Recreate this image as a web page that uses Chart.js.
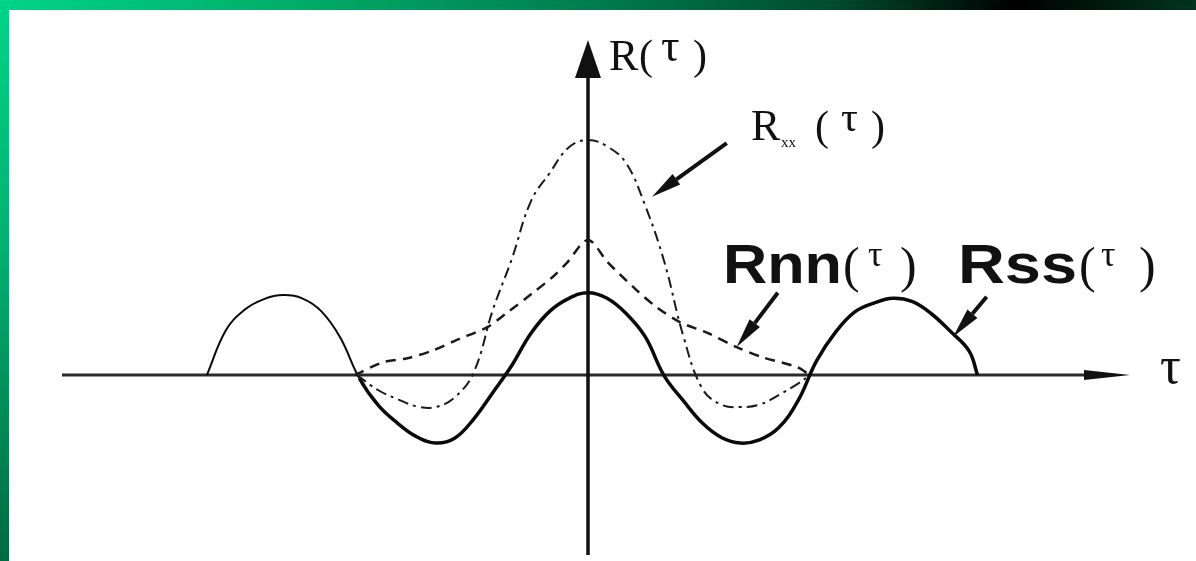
<!DOCTYPE html>
<html>
<head>
<meta charset="utf-8">
<script src="https://cdn.jsdelivr.net/npm/chart.js@4.4.1/dist/chart.umd.min.js"></script>
<style>
  html, body { margin: 0; padding: 0; background: #fff; overflow: hidden; }
  #frameTop {
    position: absolute; left: 0; top: 0; width: 1196px; height: 10px;
    background: linear-gradient(to right, #00d488 0%, #00ac6a 25%, #007c4e 50%, #004a2e 70%, #000 85%, #00351f 100%);
  }
  #frameLeft {
    position: absolute; left: 0; top: 0; width: 9px; height: 561px;
    background: linear-gradient(to bottom, #00d488 0%, #00b070 45%, #006a40 100%);
  }
  #wrap { position: absolute; left: 9px; top: 10px; width: 1187px; height: 551px; }
</style>
</head>
<body>
<div id="frameTop"></div>
<div id="frameLeft"></div>
<div id="wrap"><canvas id="chart" width="1187" height="551"></canvas></div>
<script>
// Rss(τ) – signal autocorrelation (solid)
const rssTau = [-5.0, -4.75, -4.5, -4.25, -4.0, -3.75, -3.5, -3.25, -3.0, -2.75, -2.5, -2.25, -2.0,
  -1.75, -1.5, -1.25, -1.0, -0.75, -0.5, -0.25, 0, 0.25, 0.5, 0.75, 1.0, 1.25, 1.5, 1.75, 2.0,
  2.25, 2.5, 2.75, 3.0, 3.25, 3.5, 3.75, 4.0, 4.25, 4.5, 4.75, 5.0, 5.11];
const rssVal = [0, 0.56, 0.82, 0.95, 1.00, 0.96, 0.80, 0.47, -0.04, -0.38, -0.60, -0.77, -0.85,
  -0.79, -0.55, -0.22, 0.12, 0.52, 0.80, 0.96, 1.03, 0.96, 0.77, 0.48, -0.01, -0.32, -0.60, -0.78, -0.85,
  -0.81, -0.66, -0.33, 0.18, 0.54, 0.79, 0.90, 0.96, 0.92, 0.77, 0.55, 0.30, 0];

// Rnn(τ) – noise autocorrelation (dashed)
const rnnTau = [-3.06, -2.69, -2.37, -2.03, -1.72, -1.32, -1.06, -0.72, -0.46, -0.28, 0,
  0.26, 0.64, 0.90, 1.21, 1.56, 1.95, 2.30, 2.74, 2.91];
const rnnVal = [0, 0.16, 0.21, 0.31, 0.44, 0.60, 0.78, 1.03, 1.23, 1.40, 1.69,
  1.41, 1.06, 0.85, 0.66, 0.53, 0.35, 0.22, 0.10, 0];

// Rxx(τ) – received signal autocorrelation (dash-dot)
const rxxTau = [-3.03, -2.75, -2.5, -2.25, -2.0, -1.75, -1.5, -1.25, -1.0, -0.75, -0.5, -0.25, 0,
  0.25, 0.5, 0.75, 1.0, 1.25, 1.5, 1.75, 2.0, 2.25, 2.5, 2.75, 2.91];
const rxxVal = [0, -0.19, -0.30, -0.39, -0.40, -0.28, 0.03, 0.81, 1.45, 2.17, 2.53, 2.85, 2.94,
  2.86, 2.65, 2.12, 1.42, 0.49, -0.17, -0.37, -0.40, -0.37, -0.25, -0.11, 0];

const toPoints = (xs, ys) => xs.map((x, i) => ({ x, y: ys[i] }));

// page offset of the canvas (inside the green frame)
const OX = 9, OY = 10;

// pointer arrows from the labels to the curves, in data units
const pointers = [
  { from: [1.82, 2.90], to: [0.84, 2.23] },
  { from: [2.49, 1.03], to: [1.95, 0.35] },
  { from: [5.23, 0.98], to: [4.79, 0.48] }
];

const serif = '"Liberation Serif", "DejaVu Serif", serif';
const sans = '"Liberation Sans", Arial, sans-serif';

// text pieces: page x (left), baseline y
const labelPieces = [
  { t: 'R', font: `44px ${serif}`, x: 609, y: 70 },
  { t: '(', font: `42px ${serif}`, x: 639, y: 69 },
  { t: 'τ', font: `46px ${serif}`, x: 661, y: 61 },
  { t: ')', font: `42px ${serif}`, x: 693, y: 69 },

  { t: 'R', font: `44px ${serif}`, x: 751, y: 140 },
  { t: 'xx', font: `15px ${serif}`, x: 781, y: 147 },
  { t: '(', font: `42px ${serif}`, x: 815, y: 140 },
  { t: 'τ', font: `42px ${serif}`, x: 841, y: 131 },
  { t: ')', font: `42px ${serif}`, x: 871, y: 140 },

  { t: 'Rnn', font: `bold 56px ${sans}`, x: 723, y: 283, w: 119 },
  { t: '(', font: `50px ${serif}`, x: 843, y: 282 },
  { t: 'τ', font: `36px ${serif}`, x: 868, y: 266 },
  { t: ')', font: `50px ${serif}`, x: 900, y: 282 },

  { t: 'Rss', font: `bold 56px ${sans}`, x: 958, y: 283, w: 119 },
  { t: '(', font: `50px ${serif}`, x: 1079, y: 282 },
  { t: 'τ', font: `36px ${serif}`, x: 1101, y: 266 },
  { t: ')', font: `50px ${serif}`, x: 1139, y: 282 },

  { t: 'τ', font: `52px ${serif}`, x: 1160, y: 383 }
];

function triangle(ctx, tx, ty, bx, by, hw) {
  const dx = tx - bx, dy = ty - by, len = Math.hypot(dx, dy);
  const nx = -dy / len * hw, ny = dx / len * hw;
  ctx.beginPath();
  ctx.moveTo(tx, ty);
  ctx.lineTo(bx + nx, by + ny);
  ctx.lineTo(bx - nx, by - ny);
  ctx.closePath();
  ctx.fill();
}

const overlay = {
  id: 'overlay',
  beforeDatasetsDraw(chart) {
    const { ctx, chartArea: a, scales: { x, y } } = chart;
    const x0 = x.getPixelForValue(0), y0 = y.getPixelForValue(0);
    ctx.save();
    // τ axis
    ctx.strokeStyle = '#2b2b2b';
    ctx.lineWidth = 3;
    ctx.beginPath();
    ctx.moveTo(a.left, y0);
    ctx.lineTo(a.right - 30, y0);
    ctx.stroke();
    // R axis
    ctx.strokeStyle = '#111';
    ctx.lineWidth = 3.5;
    ctx.beginPath();
    ctx.moveTo(x0, a.top + 20);
    ctx.lineTo(x0, a.bottom);
    ctx.stroke();
    ctx.fillStyle = '#111';
    triangle(ctx, x0, a.top, x0, a.top + 38, 13);
    triangle(ctx, a.right, y0, a.right - 46, y0, 5);
    ctx.restore();
  },
  afterDatasetsDraw(chart) {
    const { ctx, scales: { x, y } } = chart;
    ctx.save();
    ctx.strokeStyle = '#111';
    ctx.fillStyle = '#111';
    pointers.forEach(p => {
      const x1 = x.getPixelForValue(p.from[0]), y1 = y.getPixelForValue(p.from[1]);
      const x2 = x.getPixelForValue(p.to[0]), y2 = y.getPixelForValue(p.to[1]);
      const len = Math.hypot(x2 - x1, y2 - y1);
      const bx = x2 - (x2 - x1) / len * 30, by = y2 - (y2 - y1) / len * 30;
      ctx.lineWidth = 4;
      ctx.beginPath();
      ctx.moveTo(x1, y1);
      ctx.lineTo(bx, by);
      ctx.stroke();
      triangle(ctx, x2, y2, bx, by, 6.5);
    });

    ctx.textBaseline = 'alphabetic';
    ctx.textAlign = 'left';
    labelPieces.forEach(l => {
      ctx.font = l.font;
      const px = l.x - OX, py = l.y - OY;
      if (l.w) {
        const sx = l.w / ctx.measureText(l.t).width;
        ctx.save();
        ctx.translate(px, py);
        ctx.scale(sx, 1);
        ctx.fillText(l.t, 0, 0);
        ctx.restore();
      } else {
        ctx.fillText(l.t, px, py);
      }
    });
    ctx.restore();
  }
};

new Chart(document.getElementById('chart'), {
  type: 'line',
  data: {
    datasets: [
      {
        label: 'Rxx',
        data: toPoints(rxxTau, rxxVal),
        borderColor: '#1a1a1a',
        borderWidth: 2,
        borderDash: [11, 5, 3, 5],
        tension: 0.4
      },
      {
        label: 'Rnn',
        data: toPoints(rnnTau, rnnVal),
        borderColor: '#1a1a1a',
        borderWidth: 2.5,
        borderDash: [10, 7],
        tension: 0.3
      },
      {
        label: 'Rss',
        data: toPoints(rssTau, rssVal),
        borderColor: '#0a0a0a',
        borderWidth: 3.5,
        tension: 0.4,
        segment: {
          borderWidth: c => (c.p1.parsed.x <= -3.0 ? 2 : 3.5)
        }
      }
    ]
  },
  options: {
    responsive: false,
    animation: false,
    devicePixelRatio: 1,
    layout: { padding: { left: 53, right: 66, top: 30, bottom: 6 } },
    plugins: { legend: { display: false }, tooltip: { enabled: false } },
    elements: { point: { radius: 0 } },
    scales: {
      x: { type: 'linear', min: -6.9, max: 7.11, display: false },
      y: { type: 'linear', min: -2.25, max: 4.19, display: false }
    }
  },
  plugins: [overlay]
});
</script>
</body>
</html>
